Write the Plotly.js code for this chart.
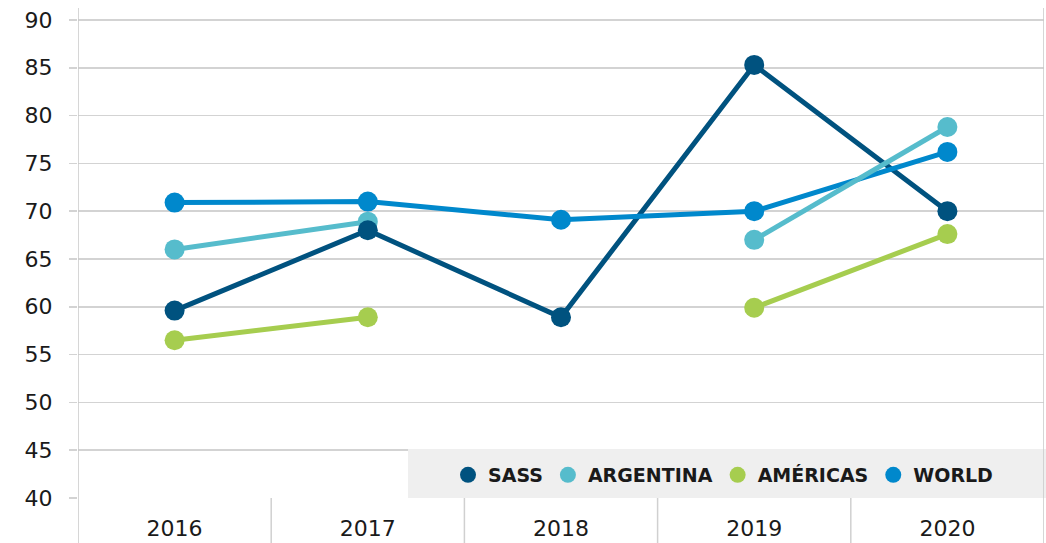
<!DOCTYPE html>
<html>
<head>
<meta charset="utf-8">
<script src="https://cdn.plot.ly/plotly-3.0.1.min.js"></script>
<style>html,body{margin:0;padding:0;background:#fff;}#chart{width:1046px;height:543px;}</style>
</head>
<body>
<div id="chart"></div>
<script>
const years = ["2016", "2017", "2018", "2019", "2020"];
const sass = [59.6, 68.0, 58.9, 85.3, 70.0];
const argentina = [66.0, 68.9, null, 67.0, 78.8];
const americas = [56.5, 58.9, null, 59.9, 67.6];
const world = [70.9, 71.0, 69.1, 70.0, 76.2];
const yTicks = [40, 45, 50, 55, 60, 65, 70, 75, 80, 85, 90];

const series = [
  {name: "SASS", y: sass, color: "#00527f", rank: 1},
  {name: "ARGENTINA", y: argentina, color: "#56bccc", rank: 2},
  {name: "AMÉRICAS", y: americas, color: "#a6cd4f", rank: 3},
  {name: "WORLD", y: world, color: "#0088cc", rank: 4}
];
const byName = n => series.find(s => s.name === n);
const lineOrder = ["SASS", "WORLD", "AMÉRICAS", "ARGENTINA"];
const markerOrder = ["ARGENTINA", "AMÉRICAS", "WORLD", "SASS"];

const traces = [];
lineOrder.forEach(n => {
  const s = byName(n);
  traces.push({x: years, y: s.y, type: "scatter", mode: "lines", connectgaps: false,
    line: {color: s.color, width: 5}, showlegend: false, hoverinfo: "skip"});
});
markerOrder.forEach(n => {
  const s = byName(n);
  traces.push({x: years, y: s.y, type: "scatter", mode: "markers", name: s.name,
    legendrank: s.rank, marker: {color: s.color, size: 20}});
});

const W = 1046, H = 543, ml = 78, mr = 2, mt = 8, mb = 45;
const plotW = W - ml - mr, plotH = H - mt - mb;
const below = -mb / plotH;

const shapes = [];
// gray legend background
shapes.push({type: "rect", xref: "paper", yref: "paper",
  x0: (408 - ml) / plotW, x1: (1046 - ml) / plotW,
  y0: 0, y1: 49 / plotH, fillcolor: "#efefef", line: {width: 0}, layer: "above"});
// left and right frame lines
[-0.5, 4.5].forEach(xv => shapes.push({type: "line", xref: "x", yref: "paper",
  x0: xv, x1: xv, y0: below, y1: 1, line: {color: "#c8c8c8", width: 1.5}, layer: "above"}));
// category separators below axis
[0.5, 1.5, 2.5, 3.5].forEach(xv => shapes.push({type: "line", xref: "x", yref: "paper",
  x0: xv, x1: xv, y0: below, y1: 0, line: {color: "#d0d0d0", width: 1.5}, layer: "above"}));

const layout = {
  width: W, height: H,
  margin: {l: ml, r: mr, t: mt, b: mb, pad: 0},
  paper_bgcolor: "#ffffff", plot_bgcolor: "#ffffff",
  showlegend: true,
  legend: {orientation: "h", x: (998 - ml) / plotW, xanchor: "right", y: 23 / plotH, yanchor: "middle",
    bgcolor: "rgba(0,0,0,0)", font: {family: "DejaVu Sans", size: 19, color: "#1a1a1a", weight: "bold"},
    itemsizing: "trace", traceorder: "normal", itemwidth: 30},
  xaxis: {type: "category", range: [-0.5, 4.5], showgrid: false, zeroline: false,
    showline: false, ticks: "", tickfont: {family: "DejaVu Sans", size: 22, color: "#1a1a1a"},
    ticklabelstandoff: 15, fixedrange: true},
  yaxis: {range: [40, 91.25], tickvals: yTicks, ticktext: yTicks.map(String),
    showgrid: true, gridcolor: "#d3d3d3", gridwidth: 1.5, zeroline: false, showline: false,
    ticks: "outside", ticklen: 8, tickcolor: "#d3d3d3", tickwidth: 1.5,
    tickfont: {family: "DejaVu Sans", size: 22, color: "#1a1a1a"}, ticklabelstandoff: 12, fixedrange: true},
  shapes: shapes
};

Plotly.newPlot("chart", traces, layout, {displayModeBar: false, staticPlot: true});
</script>
</body>
</html>
